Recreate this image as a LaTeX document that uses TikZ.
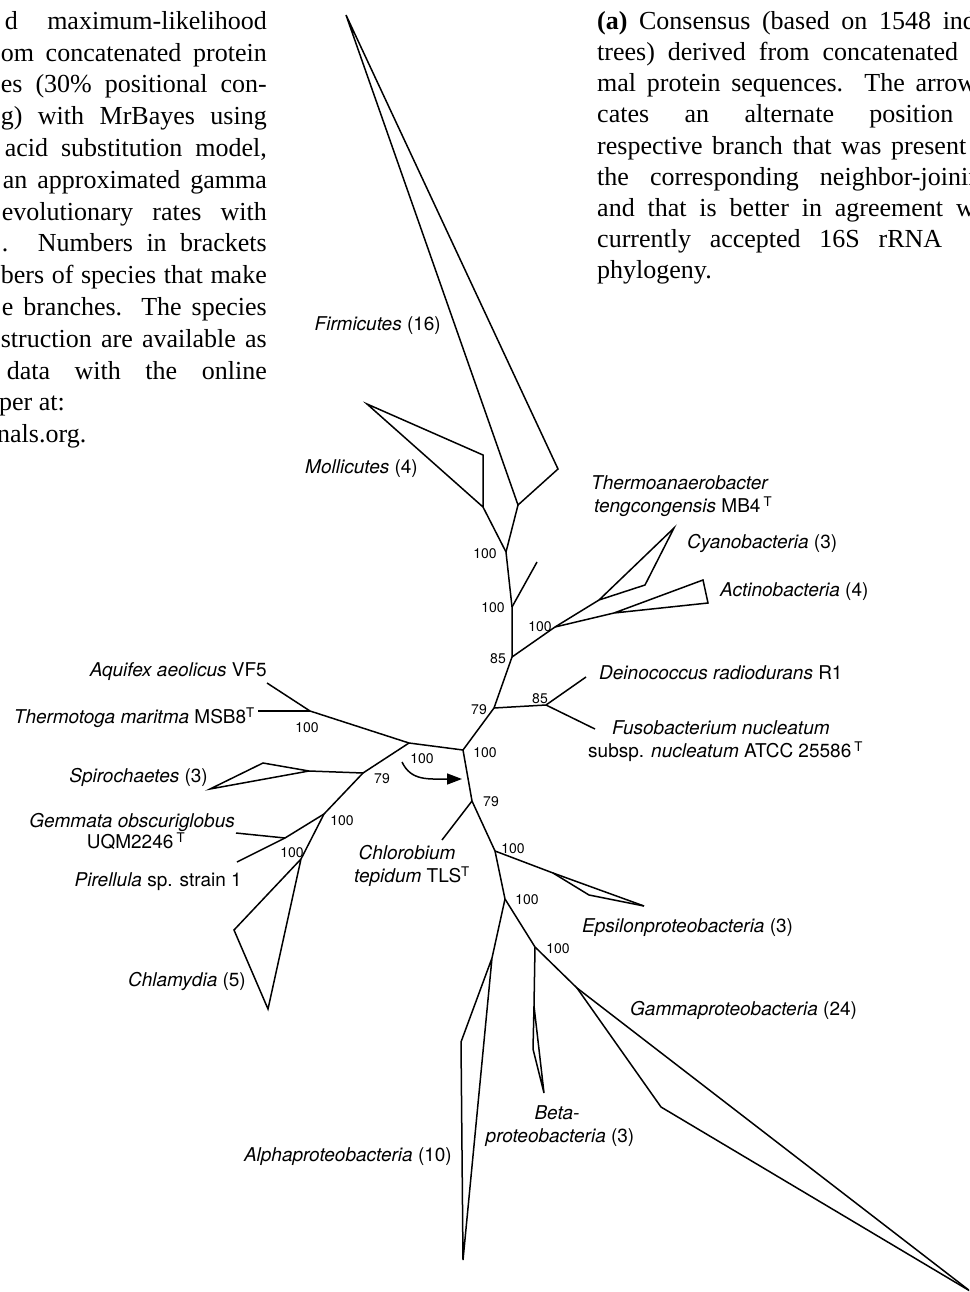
\documentclass[tikz,border=0pt]{standalone}
\usepackage{fontspec}
\setmainfont{Liberation Serif}
\newfontfamily\labelfont{TeX Gyre Heros}
\usetikzlibrary{arrows.meta}
\begin{document}
\begin{tikzpicture}[x=1pt,y=-1pt,
  br/.style={line width=1.5pt, line join=miter},
  lab/.style={font=\labelfont\fontsize{19}{22}\selectfont, inner sep=0pt},
  num/.style={font=\labelfont\fontsize{14}{16}\selectfont, inner sep=0pt},
  capE/.style={font=\fontsize{26}{30}\selectfont, inner sep=0pt, anchor=mid east},
  capW/.style={font=\fontsize{26}{30}\selectfont, inner sep=0pt, anchor=mid west},
  arr/.style={line width=1.5pt, -{Triangle[length=15pt,width=11pt]}}]
\useasboundingbox (0,0) rectangle (969,1292);
\clip (0,0) rectangle (969,1292);
\fill[white] (0,0) rectangle (969,1292);

% ---------- caption text, left column ----------
\node[capE] (t1) at (267,27) {\makebox[262pt][s]{d maximum-likelihood}};
\node[capE] (t2) at (267,58.8) {\makebox[266pt][s]{om concatenated protein}};
\node[capE] (t3) at (267,90.6) {\makebox[266pt][s]{es (30\% positional con-}};
\node[capE] (t4) at (267,122.4) {\makebox[266pt][s]{g) with MrBayes using}};
\node[capE] (t5) at (267,154.2) {\makebox[262pt][s]{acid substitution model,}};
\node[capE] (t6) at (267,186) {\makebox[264pt][s]{an approximated gamma}};
\node[capE] (t7) at (267,217.8) {\makebox[265pt][s]{evolutionary rates with}};
\node[capE] (t8) at (267,249.6) {\makebox[265pt][s]{. Numbers in brackets}};
\node[capE] (t9) at (267,281.4) {\makebox[266pt][s]{bers of species that make}};
\node[capE] (t10) at (267,313.2) {\makebox[265pt][s]{e branches. The species}};
\node[capE] (t11) at (267,345) {\makebox[266pt][s]{struction are available as}};
\node[capE] (t12) at (267,376.8) {\makebox[260pt][s]{data with the online}};
\node[capW] (t13) at (-1,408.6) {per at:};
\node[capW] (t14) at (-3,440.4) {nals.org.};

% ---------- caption text, right column ----------
\node[capW] (r1) at (597,27) {\makebox[451pt][s]{\textbf{(a)} Consensus (based on 1548 individual}};
\node[capW] (r2) at (597,58.2) {\makebox[361pt][s]{trees) derived from concatenated}};
\node[capW] (r3) at (597,89.4) {\makebox[379pt][s]{mal protein sequences. The arrow}};
\node[capW] (r4) at (597,120.6) {\makebox[356pt][s]{cates an alternate position}};
\node[capW] (r5) at (597,151.8) {\makebox[369pt][s]{respective branch that was present}};
\node[capW] (r6) at (597,183) {\makebox[397pt][s]{the corresponding neighbor-joining}};
\node[capW] (r7) at (597,214.2) {\makebox[405pt][s]{and that is better in agreement with}};
\node[capW] (r8) at (597,245.4) {\makebox[345pt][s]{currently accepted 16S rRNA}};
\node[capW] (r9) at (597,276.6) {phylogeny.};

% ---------- tree points ----------
\coordinate (fa) at (346,15);
\coordinate (fr) at (558,469);
\coordinate (F) at (518,505);
\coordinate (ma) at (367,404);
\coordinate (mt) at (483,455);
\coordinate (mb) at (483,507);
\coordinate (n1) at (506,552);
\coordinate (n2) at (512,607);
\coordinate (l2) at (537,562);
\coordinate (n3) at (512,657);
\coordinate (n4) at (555,627);
\coordinate (c0) at (599,600);
\coordinate (cap) at (674,528);
\coordinate (c2) at (645,585);
\coordinate (a0) at (614,613);
\coordinate (atop) at (703,580);
\coordinate (abr) at (708,603);
\coordinate (n5) at (494,708);
\coordinate (n6) at (546,705);
\coordinate (deino) at (586,677);
\coordinate (fuso) at (595,729);
\coordinate (n7) at (463,750);
\coordinate (n8) at (409,743);
\coordinate (n9) at (472,801);
\coordinate (n10) at (310,711);
\coordinate (aqt) at (267,683);
\coordinate (tht) at (258,711);
\coordinate (n11) at (363,773);
\coordinate (s0) at (309,771);
\coordinate (stop) at (263,763);
\coordinate (sleft) at (210,789);
\coordinate (n12) at (324,814);
\coordinate (n13) at (285,838);
\coordinate (gem) at (236,833);
\coordinate (pir) at (237,862);
\coordinate (ch0) at (301,859);
\coordinate (chl) at (234,930);
\coordinate (chb) at (268,1009);
\coordinate (chlo) at (442,840);
\coordinate (n14) at (495,851);
\coordinate (e0) at (553,873);
\coordinate (e1) at (589,895);
\coordinate (etip) at (644,906);
\coordinate (n15) at (505,899);
\coordinate (al0) at (492,958);
\coordinate (al1) at (461,1042);
\coordinate (al2) at (463,1260);
\coordinate (n16) at (535,947);
\coordinate (be0) at (534,1006);
\coordinate (be1) at (533,1049);
\coordinate (betip) at (544,1093);
\coordinate (g0) at (577,988);
\coordinate (g1) at (661,1107);
\coordinate (gtip) at (970,1291);
\coordinate (arS) at (402,762);
\coordinate (arE) at (462,779);

% ---------- branches ----------
\draw[br] (F) -- (fr) -- (fa) -- cycle;
\draw[br] (n1) -- (F);
\draw[br] (n1) -- (mb) -- (mt) -- (ma) -- (mb);
\draw[br] (n1) -- (n2) -- (n3) -- (n5) -- (n7);
\draw[br] (n2) -- (l2);
\draw[br] (n3) -- (n4);
\draw[br] (n4) -- (c0) -- (cap) -- (c2) -- (c0);
\draw[br] (n4) -- (a0) -- (atop) -- (abr) -- (a0);
\draw[br] (n5) -- (n6);
\draw[br] (n6) -- (deino);
\draw[br] (n6) -- (fuso);
\draw[br] (n7) -- (n8) -- (n10);
\draw[br] (n10) -- (aqt);
\draw[br] (n10) -- (tht);
\draw[br] (n8) -- (n11) -- (s0) -- (stop) -- (sleft) -- (s0);
\draw[br] (n11) -- (n12) -- (n13) -- (gem);
\draw[br] (n13) -- (pir);
\draw[br] (n12) -- (ch0) -- (chl) -- (chb) -- (ch0);
\draw[br] (n7) -- (n9) -- (chlo);
\draw[br] (n9) -- (n14) -- (n15) -- (n16);
\draw[br] (n14) -- (e0) -- (etip);
\draw[br] (e0) -- (e1) -- (etip);
\draw[br] (n15) -- (al0) -- (al1) -- (al2) -- (al0);
\draw[br] (n16) -- (be0) -- (be1) -- (betip) -- (be0);
\draw[br] (n16) -- (g0) -- (gtip);
\draw[br] (g0) -- (g1) -- (gtip);
\draw[arr] (arS) .. controls (411,781) and (428,779) .. (arE);

% ---------- support values ----------
\node[num] (v1) at (485,554) {100};
\node[num] (v2) at (493,608) {100};
\node[num] (v3) at (498,659) {85};
\node[num] (v4) at (540,627) {100};
\node[num] (v5) at (479,710) {79};
\node[num] (v6) at (540,699) {85};
\node[num] (v7) at (485,753) {100};
\node[num] (v8) at (422,759) {100};
\node[num] (v9) at (491,802) {79};
\node[num] (v10) at (307,728) {100};
\node[num] (v11) at (382,779) {79};
\node[num] (v12) at (342,821) {100};
\node[num] (v13) at (292,853) {100};
\node[num] (v14) at (513,849) {100};
\node[num] (v15) at (527,900) {100};
\node[num] (v16) at (558,949) {100};

% ---------- taxon labels ----------
\node[lab, anchor=mid east] (firmL) at (441,328) {\textit{Firmicutes} (16)};
\node[lab, anchor=mid east] (molL) at (418,471) {\textit{Mollicutes} (4)};
\node[lab, anchor=mid west] (thL1) at (591,487) {\textit{Thermoanaerobacter}};
\node[lab, anchor=mid west] (thL2) at (594,510) {\textit{tengcongensis} MB4\,\textsuperscript{T}};
\node[lab, anchor=mid west] (cyL) at (687,546) {\textit{Cyanobacteria} (3)};
\node[lab, anchor=mid west] (acL) at (720,594) {\textit{Actinobacteria} (4)};
\node[lab, anchor=mid west] (deL) at (599,677) {\textit{Deinococcus radiodurans} R1};
\node[lab, anchor=mid west] (fuL1) at (612,732) {\textit{Fusobacterium nucleatum}};
\node[lab, anchor=mid west] (fuL2) at (588,755) {subsp. \textit{nucleatum} ATCC 25586\,\textsuperscript{T}};
\node[lab, anchor=mid east] (aqL) at (267,674) {\textit{Aquifex aeolicus} VF5};
\node[lab, anchor=mid east] (tmL) at (255,721) {\textit{Thermotoga maritma} MSB8\textsuperscript{T}};
\node[lab, anchor=mid east] (spL) at (208,780) {\textit{Spirochaetes} (3)};
\node[lab, anchor=mid east] (geL1) at (235,825) {\textit{Gemmata obscuriglobus}};
\node[lab, anchor=mid] (geL2) at (136,846) {UQM2246\,\textsuperscript{T}};
\node[lab, anchor=mid east] (piL) at (242,884) {\textit{Pirellula} sp. strain 1};
\node[lab, anchor=mid east] (chL) at (246,984) {\textit{Chlamydia} (5)};
\node[lab, anchor=mid] (clL1) at (407,857) {\textit{Chlorobium}};
\node[lab, anchor=mid] (clL2) at (412,880) {\textit{tepidum} TLS\textsuperscript{T}};
\node[lab, anchor=mid west] (epL) at (582,930) {\textit{Epsilonproteobacteria} (3)};
\node[lab, anchor=mid west] (gaL) at (630,1013) {\textit{Gammaproteobacteria} (24)};
\node[lab, anchor=mid] (beL1) at (557,1117) {\textit{Beta-}};
\node[lab, anchor=mid] (beL2) at (560,1140) {\textit{proteobacteria} (3)};
\node[lab, anchor=mid east] (alL) at (452,1159) {\textit{Alphaproteobacteria} (10)};
\end{tikzpicture}
\end{document}
